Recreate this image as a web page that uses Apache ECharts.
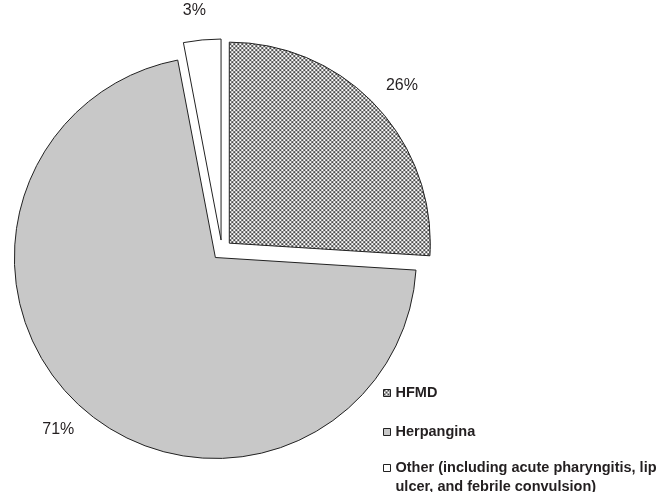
<!DOCTYPE html>
<html>
<head>
<meta charset="utf-8">
<script src="https://cdn.jsdelivr.net/npm/echarts@6/dist/echarts.min.js"></script>
<style>
html,body{margin:0;padding:0;background:#fff;}
#chart{width:665px;height:492px;}
</style>
</head>
<body>
<div id="chart"></div>
<script>
// Data
const categories = ['HFMD', 'Herpangina', 'Other (including acute pharyngitis, lip ulcer, and febrile convulsion)'];
const percentValues = [26, 71, 3];
const legendLabels = ['HFMD', 'Herpangina', ' \nOther (including acute pharyngitis, lip\nulcer, and febrile convulsion)'];

// Dotted pattern for HFMD
function makePattern() {
  const c = document.createElement('canvas');
  c.width = 4; c.height = 4;
  const ctx = c.getContext('2d');
  ctx.fillStyle = '#ffffff';
  ctx.fillRect(0, 0, 4, 4);
  ctx.fillStyle = '#4a4a4a';
  ctx.fillRect(0, 0, 2, 2);
  ctx.fillRect(2, 2, 2, 2);
  return c;
}
const pattern = { image: makePattern(), repeat: 'repeat' };
const fills = [pattern, '#c8c8c8', '#ffffff'];

const chart = echarts.init(document.getElementById('chart'), null, { renderer: 'canvas' });
const font = "'Liberation Sans', Arial, sans-serif";

const pieData = categories.map((name, i) => ({
  name: name,
  value: percentValues[i],
  selected: true,
  itemStyle: { color: fills[i] }
}));

const legendFormatter = function (name) {
  return legendLabels[categories.indexOf(name)];
};

const legendText = { fontFamily: font, fontSize: 14.5, fontWeight: 'bold', color: '#231f20', lineHeight: 19 };

chart.setOption({
  animation: false,
  backgroundColor: '#ffffff',
  legend: [
    {
      orient: 'vertical',
      left: 378,
      top: 378.5,
      itemWidth: 7,
      itemHeight: 7,
      itemGap: 20,
      selectedMode: false,
      icon: 'rect',
      data: [categories[0], categories[1]],
      formatter: legendFormatter,
      itemStyle: { borderColor: '#222', borderWidth: 1 },
      textStyle: legendText
    },
    {
      orient: 'vertical',
      left: 378,
      top: 434.5,
      itemWidth: 7,
      itemHeight: 7,
      selectedMode: false,
      icon: 'rect',
      data: [categories[2]],
      formatter: legendFormatter,
      itemStyle: { borderColor: '#222', borderWidth: 1 },
      textStyle: legendText
    }
  ],
  series: [{
    type: 'pie',
    center: [222, 250],
    radius: 201,
    startAngle: 90,
    clockwise: true,
    selectedMode: 'multiple',
    selectedOffset: 10,
    avoidLabelOverlap: false,
    itemStyle: { borderColor: '#222', borderWidth: 1 },
    emphasis: { disabled: true },
    label: {
      show: true,
      position: 'outside',
      formatter: '{c}%',
      fontFamily: font,
      fontSize: 16,
      color: '#231f20'
    },
    labelLine: { show: false, length: 29, length2: 0 },
    labelLayout: { align: 'center', verticalAlign: 'middle' },
    data: pieData
  }]
});
</script>
</body>
</html>
